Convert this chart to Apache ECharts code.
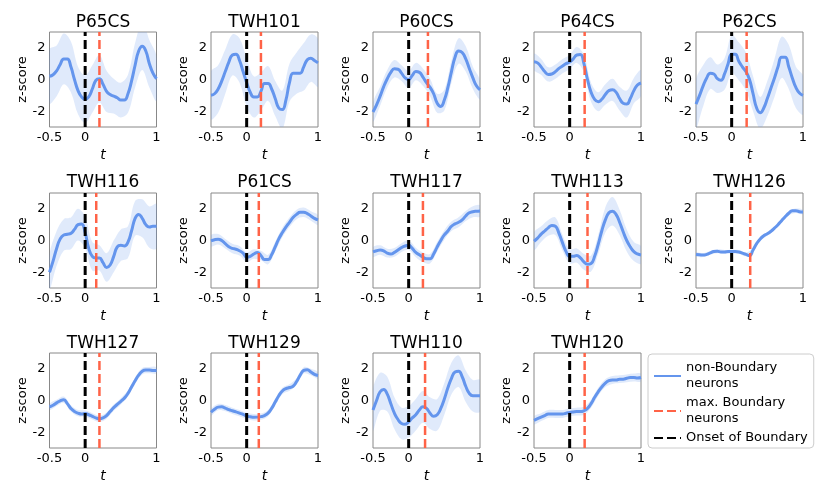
<!DOCTYPE html>
<html>
<head>
<meta charset="utf-8">
<script src="https://cdn.jsdelivr.net/npm/echarts@6/dist/echarts.min.js"></script>
<style>
  body { margin: 0; background: #fff; }
  #chart { width: 830px; height: 498px; }
</style>
</head>
<body>
<div id="chart"></div>
<script>
// time grid (s), mean every 0.05, band half-width every 0.1
const t = Array.from({ length: 31 }, (_, i) => +(-0.5 + i * 0.05).toFixed(2))
const tBand = t.filter((_, i) => i % 2 === 0)

const names = ['P65CS', 'TWH101', 'P60CS', 'P64CS', 'P62CS',
  'TWH116', 'P61CS', 'TWH117', 'TWH113', 'TWH126',
  'TWH127', 'TWH129', 'TWH110', 'TWH120']
const onset = 0
const maxBoundary = [0.2, 0.2, 0.27, 0.21, 0.21, 0.155, 0.17, 0.2, 0.25, 0.26, 0.2, 0.17, 0.23, 0.21]

const meanP65CS = [0.2, 0.3, 0.55, 0.95, 1.3, 1.3, 0.8, 0.0, -0.7, -1.1, -1.25, -1.1, -0.6, -0.05, 0.05, -0.3, -0.75, -0.95, -1.05, -1.15, -1.3, -1.3, -0.9, -0.1, 0.9, 1.8, 2.1, 1.8, 1.0, 0.4, 0.05]
const meanTWH101 = [-1.0, -0.9, -0.6, -0.1, 0.5, 1.1, 1.55, 1.6, 1.2, 0.5, -0.2, -0.8, -1.1, -1.1, -0.75, -0.25, -0.25, -0.6, -1.2, -1.8, -1.9, -1.3, -0.2, 0.4, 0.4, 0.4, 0.8, 1.25, 1.35, 1.2, 1.05]
const meanP60CS = [-2.05, -1.6, -1.05, -0.45, 0.05, 0.45, 0.68, 0.65, 0.4, 0.1, 0.0, 0.25, 0.5, 0.45, 0.15, -0.2, -0.5, -0.9, -1.5, -1.7, -1.3, -0.5, 0.5, 1.4, 1.8, 1.7, 1.3, 0.7, 0.1, -0.4, -0.65]
const meanP64CS = [1.12, 1.05, 0.8, 0.5, 0.32, 0.35, 0.5, 0.7, 0.85, 1.0, 1.1, 1.3, 1.55, 1.58, 1.0, 0.0, -0.8, -1.25, -1.4, -1.25, -0.95, -0.7, -0.65, -0.8, -1.2, -1.5, -1.55, -1.2, -0.7, -0.35, -0.22]
const meanP62CS = [-1.55, -1.0, -0.4, 0.1, 0.4, 0.35, 0.05, -0.05, 0.35, 1.0, 1.6, 1.6, 1.15, 0.8, 0.5, 0.0, -0.9, -1.8, -2.1, -1.8, -1.2, -0.55, 0.1, 0.8, 1.4, 1.4, 0.8, 0.1, -0.5, -0.85, -1.0]
const meanTWH116 = [-2.0, -1.3, -0.5, 0.1, 0.35, 0.4, 0.45, 0.7, 1.0, 1.05, 0.5, -0.5, -1.0, -1.1, -1.1, -1.4, -1.7, -1.55, -1.0, -0.4, -0.3, -0.35, -0.1, 0.6, 1.4, 1.65, 1.4, 1.0, 0.85, 0.9, 0.9]
const meanP61CS = [-0.02, 0.05, 0.08, 0.0, -0.2, -0.4, -0.5, -0.55, -0.65, -0.8, -1.05, -1.0, -0.85, -0.75, -0.95, -1.2, -1.2, -0.9, -0.4, 0.1, 0.5, 0.85, 1.15, 1.45, 1.65, 1.78, 1.78, 1.7, 1.55, 1.4, 1.3]
const meanTWH117 = [-0.72, -0.65, -0.6, -0.65, -0.8, -0.85, -0.75, -0.6, -0.45, -0.35, -0.3, -0.5, -0.75, -0.9, -1.05, -1.15, -1.15, -0.85, -0.4, 0.0, 0.35, 0.6, 0.9, 1.05, 1.15, 1.3, 1.55, 1.75, 1.82, 1.85, 1.87]
const meanTWH113 = [-0.05, 0.15, 0.4, 0.6, 0.8, 0.95, 0.9, 0.45, -0.15, -0.7, -1.0, -1.0, -0.95, -1.1, -1.35, -1.5, -1.45, -1.0, -0.25, 0.6, 1.3, 1.75, 1.85, 1.65, 1.15, 0.55, 0.0, -0.4, -0.7, -0.85, -0.92]
const meanTWH126 = [-0.88, -0.9, -0.92, -0.88, -0.78, -0.7, -0.68, -0.72, -0.72, -0.7, -0.7, -0.7, -0.72, -0.8, -0.88, -0.95, -0.6, -0.2, 0.1, 0.3, 0.42, 0.58, 0.78, 1.0, 1.25, 1.5, 1.72, 1.88, 1.88, 1.82, 1.8]
const meanTWH127 = [-0.4, -0.3, -0.15, -0.02, 0.05, -0.2, -0.5, -0.7, -0.8, -0.85, -0.82, -0.9, -1.0, -1.1, -1.15, -1.1, -0.95, -0.7, -0.45, -0.25, -0.05, 0.15, 0.45, 0.85, 1.25, 1.6, 1.85, 1.92, 1.92, 1.9, 1.9]
const meanTWH129 = [-0.74, -0.55, -0.42, -0.4, -0.48, -0.58, -0.65, -0.72, -0.8, -0.88, -0.98, -1.03, -1.06, -1.05, -1.02, -0.95, -0.8, -0.5, -0.1, 0.3, 0.6, 0.75, 0.82, 0.9, 1.2, 1.6, 1.9, 1.95, 1.8, 1.65, 1.58]
const meanTWH110 = [-0.6, 0.0, 0.55, 0.7, 0.4, -0.2, -0.8, -1.2, -1.45, -1.5, -1.35, -1.1, -0.9, -0.6, -0.4, -0.5, -0.8, -1.0, -0.9, -0.5, 0.1, 0.8, 1.4, 1.8, 1.85, 1.5, 0.9, 0.45, 0.3, 0.3, 0.3]
const meanTWH120 = [-1.25, -1.15, -1.05, -0.95, -0.85, -0.85, -0.85, -0.85, -0.85, -0.8, -0.75, -0.72, -0.7, -0.7, -0.65, -0.5, -0.2, 0.2, 0.55, 0.85, 1.1, 1.25, 1.3, 1.3, 1.35, 1.35, 1.4, 1.45, 1.45, 1.42, 1.45]

const hwP65CS = [1.7, 1.6, 1.6, 1.6, 1.5, 1.5, 1.5, 1.5, 1.3, 1.1, 1.1, 1.2, 1.4, 1.5, 1.5, 1.4]
const hwTWH101 = [1.5, 1.5, 1.4, 1.3, 1.4, 1.5, 1.3, 1.2, 1.1, 1.1, 1.2, 1.2, 1.3, 1.5, 1.5, 1.5]
const hwP60CS = [0.6, 0.6, 0.55, 0.55, 0.5, 0.55, 0.55, 0.55, 0.55, 0.6, 0.65, 0.7, 0.8, 0.8, 0.7, 0.6]
const hwP64CS = [0.5, 0.5, 0.45, 0.45, 0.45, 0.45, 0.5, 0.55, 0.6, 0.6, 0.65, 0.7, 0.75, 0.85, 0.8, 0.8]
const hwP62CS = [1.5, 1.3, 1.0, 0.9, 1.0, 1.2, 1.2, 1.2, 1.1, 1.0, 1.1, 1.2, 1.3, 1.4, 1.3, 1.2]
const hwTWH116 = [1.1, 1.1, 1.0, 1.0, 1.0, 1.0, 0.9, 0.8, 0.9, 1.0, 1.0, 1.0, 1.1, 1.2, 1.3, 1.4]
const hwP61CS = [0.35, 0.33, 0.3, 0.3, 0.3, 0.3, 0.3, 0.3, 0.3, 0.3, 0.3, 0.3, 0.3, 0.3, 0.3, 0.3]
const hwTWH117 = [0.3, 0.3, 0.28, 0.28, 0.28, 0.3, 0.3, 0.3, 0.3, 0.3, 0.3, 0.3, 0.32, 0.32, 0.35, 0.35]
const hwTWH113 = [0.55, 0.5, 0.5, 0.55, 0.5, 0.45, 0.45, 0.5, 0.5, 0.6, 0.8, 0.9, 0.8, 0.7, 0.6, 0.55]
const hwTWH126 = [0.12, 0.12, 0.12, 0.12, 0.12, 0.12, 0.12, 0.12, 0.12, 0.12, 0.12, 0.12, 0.12, 0.14, 0.14, 0.14]
const hwTWH127 = [0.2, 0.2, 0.2, 0.2, 0.2, 0.2, 0.2, 0.2, 0.2, 0.2, 0.2, 0.2, 0.2, 0.2, 0.2, 0.2]
const hwTWH129 = [0.2, 0.2, 0.2, 0.2, 0.2, 0.2, 0.2, 0.2, 0.2, 0.2, 0.2, 0.2, 0.2, 0.2, 0.2, 0.2]
const hwTWH110 = [1.3, 1.2, 1.1, 1.0, 1.0, 1.0, 1.0, 1.0, 1.0, 1.0, 1.0, 1.0, 1.0, 1.0, 1.0, 1.0]
const hwTWH120 = [0.25, 0.25, 0.25, 0.25, 0.25, 0.25, 0.25, 0.25, 0.25, 0.25, 0.25, 0.25, 0.25, 0.25, 0.25, 0.25]

const means = [meanP65CS, meanTWH101, meanP60CS, meanP64CS, meanP62CS, meanTWH116, meanP61CS,
  meanTWH117, meanTWH113, meanTWH126, meanTWH127, meanTWH129, meanTWH110, meanTWH120]
const halfWidths = [hwP65CS, hwTWH101, hwP60CS, hwP64CS, hwP62CS, hwTWH116, hwP61CS,
  hwTWH117, hwTWH113, hwTWH126, hwTWH127, hwTWH129, hwTWH110, hwTWH120]

const xTicks = [-0.5, 0, 1]
const yTicks = [-2, 0, 2]
const yMin = -3
const yMax = 3

const legendNames = ['non-Boundary\nneurons', 'max. Boundary\nneurons', 'Onset of Boundary']

const lefts = [49.5, 211, 373, 534, 696]
const tops = [32, 193, 353]
const titleY = [22.5, 183, 343.5]
const W = 107
const H = 95
const font = 'DejaVu Sans'

let grids = [], xAxes = [], yAxes = [], series = [], graphics = []

// band polygon: upper edge left->right then lower edge right->left
function bandRender (rows) {
  return function (params, api) {
    if (params.dataIndex !== 0) return null
    let upper = rows.map(r => api.coord([r[0], r[2]]))
    let lower = rows.map(r => api.coord([r[0], r[1]])).reverse()
    return {
      type: 'polygon',
      shape: { points: upper.concat(lower), smooth: 0.35 },
      style: { fill: '#6495ED', opacity: 0.2 }
    }
  }
}

names.forEach(function (name, i) {
  let col = i % 5, row = Math.floor(i / 5)
  grids.push({ left: lefts[col], top: tops[row], width: W, height: H, show: true, borderColor: '#888', borderWidth: 1, backgroundColor: 'transparent' })
  xAxes.push({
    gridIndex: i, type: 'value', min: -0.5, max: 1, interval: 0.5,
    axisLine: { show: false }, axisTick: { show: false }, splitLine: { show: false },
    axisLabel: { color: '#000', fontSize: 13, fontFamily: font, margin: 4, showMinLabel: true, showMaxLabel: true,
      formatter: v => xTicks.indexOf(v) >= 0 ? String(v) : '' },
    name: 't', nameLocation: 'middle', nameGap: 21,
    nameTextStyle: { color: '#000', fontSize: 14, fontStyle: 'italic', fontFamily: font }
  })
  yAxes.push({
    gridIndex: i, type: 'value', min: yMin, max: yMax, interval: 1,
    axisLine: { show: false }, axisTick: { show: false }, splitLine: { show: false },
    axisLabel: { color: '#000', fontSize: 13, fontFamily: font, margin: 4, showMinLabel: true, showMaxLabel: true,
      formatter: v => yTicks.indexOf(v) >= 0 ? String(v) : '' },
    name: 'z-score', nameLocation: 'middle', nameGap: 20,
    nameTextStyle: { color: '#000', fontSize: 13, fontFamily: font }
  })
  graphics.push({
    type: 'text', x: lefts[col] + W / 2, y: titleY[row],
    style: { text: name, fontSize: 17, fontFamily: font, fill: '#000', align: 'center', verticalAlign: 'middle' }
  })

  let m = means[i], hw = halfWidths[i]
  let bandRows = tBand.map((x, k) => [x, m[2 * k] - hw[k], m[2 * k] + hw[k]])
  series.push({
    name: 'band-' + i, type: 'custom', xAxisIndex: i, yAxisIndex: i, clip: true, silent: true,
    renderItem: bandRender(bandRows),
    encode: { x: 0, y: [1, 2] },
    data: bandRows
  })
  series.push({
    name: legendNames[0], type: 'line', xAxisIndex: i, yAxisIndex: i, smooth: true, symbol: 'none', z: 3,
    lineStyle: { color: '#6495ED', width: 3 }, itemStyle: { color: '#6495ED', opacity: 0 },
    data: t.map((x, k) => [x, m[k]])
  })
  series.push({
    name: legendNames[1], type: 'line', xAxisIndex: i, yAxisIndex: i, symbol: 'none', z: 4,
    lineStyle: { color: '#FF6347', width: 2.5, type: [9, 4] }, itemStyle: { color: '#FF6347', opacity: 0 },
    data: [[maxBoundary[i], yMin], [maxBoundary[i], yMax]]
  })
  series.push({
    name: legendNames[2], type: 'line', xAxisIndex: i, yAxisIndex: i, symbol: 'none', z: 4,
    lineStyle: { color: '#000', width: 3, type: [9, 4] }, itemStyle: { color: '#000', opacity: 0 },
    data: [[onset, yMin], [onset, yMax]]
  })
})

let chart = echarts.init(document.getElementById('chart'))
chart.setOption({
  animation: false,
  grid: grids,
  xAxis: xAxes,
  yAxis: yAxes,
  series: series,
  graphic: graphics,
  legend: {
    data: legendNames,
    orient: 'vertical',
    left: 648, top: 354,
    itemWidth: 27, itemHeight: 14, itemGap: 3,
    padding: [6, 6, 2, 5],
    borderColor: '#ccc', borderWidth: 1, borderRadius: 4, backgroundColor: '#fff',
    selectedMode: false,
    textStyle: { color: '#000', fontSize: 13, fontFamily: font, lineHeight: 16 }
  }
})
</script>
</body>
</html>
